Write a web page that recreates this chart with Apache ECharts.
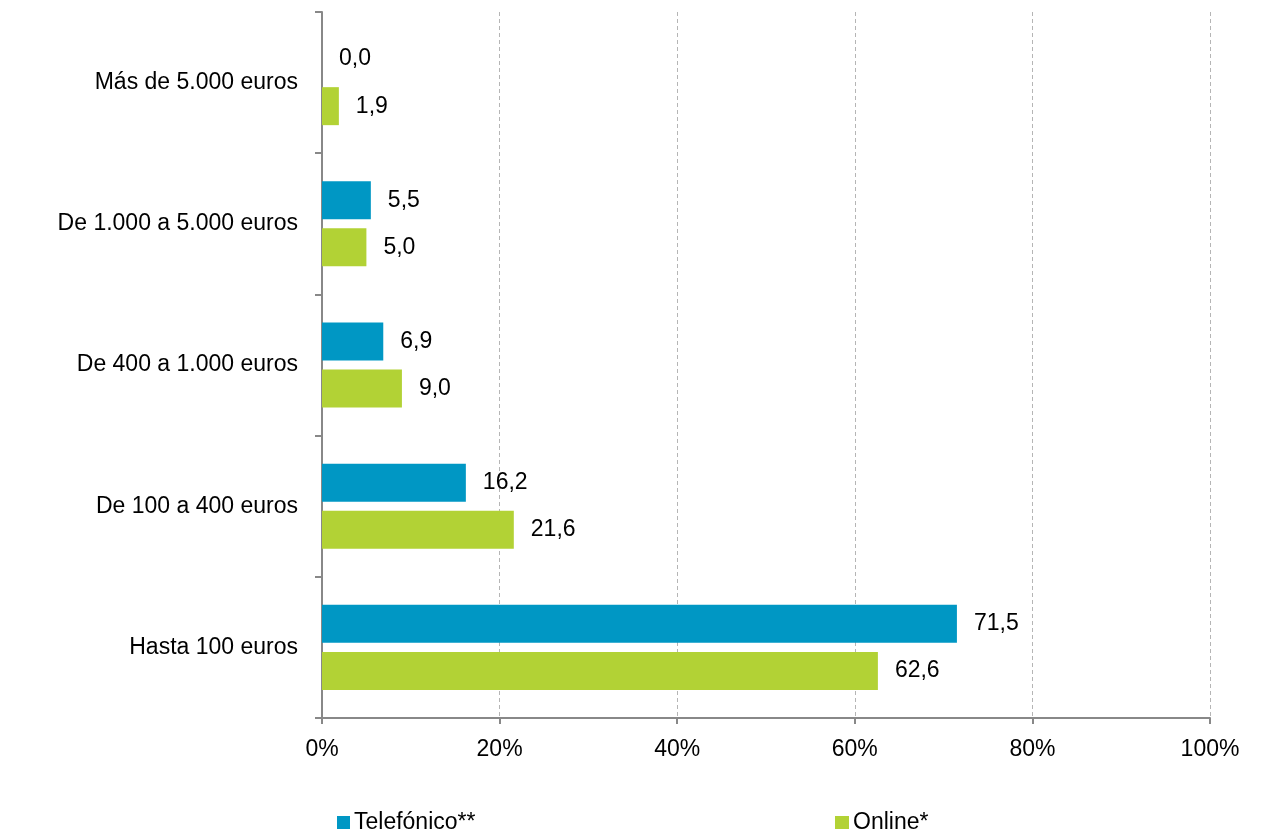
<!DOCTYPE html>
<html><head><meta charset="utf-8">
<script src="https://cdn.jsdelivr.net/npm/echarts@6/dist/echarts.min.js"></script>
<style>html,body{margin:0;padding:0;background:#fff}#c{width:1268px;height:831px}</style>
</head><body><div id="c"></div>
<script>
const categories = ['Hasta 100 euros','De 100 a 400 euros','De 400 a 1.000 euros','De 1.000 a 5.000 euros','Más de 5.000 euros'];
const telefonico = [71.5, 16.2, 6.9, 5.5, 0.0];
const online = [62.6, 21.6, 9.0, 5.0, 1.9];
const xTicks = [0, 20, 40, 60, 80, 100];

const font = 'Liberation Sans, Arial, sans-serif';
const fs = 23;
const chart = echarts.init(document.getElementById('c'));
const lbl = {show:true, position:'right', distance:17, fontSize:fs, fontFamily:font, color:'#000',
  formatter: p => p.value.toFixed(1).replace('.', ',')};
chart.setOption({
  animation:false,
  grid:{left:322, right:58, top:12, bottom:113, containLabel:false},
  legend:[
    {data:['Telefónico**'], left:332, top:806, icon:'rect', itemWidth:13, itemHeight:13,
     textStyle:{fontSize:fs, fontFamily:font, color:'#000', padding:[0,0,0,-1]}},
    {data:['Online*'], left:830, top:806, icon:'rect', itemWidth:14, itemHeight:13,
     textStyle:{fontSize:fs, fontFamily:font, color:'#000', padding:[0,0,0,-1]}}
  ],
  xAxis:{type:'value', min:xTicks[0], max:xTicks[xTicks.length-1], interval:20,
    axisLine:{show:true, lineStyle:{color:'#888', width:2}},
    axisTick:{show:true, length:6, lineStyle:{color:'#888', width:2}},
    axisLabel:{formatter:'{value}%', fontSize:fs, fontFamily:font, color:'#000', margin:20},
    splitLine:{show:true, lineStyle:{color:'#b5b5b5', type:[4,3], width:1}}},
  yAxis:{type:'category', data:categories,
    axisLine:{show:true, lineStyle:{color:'#888', width:2}},
    axisTick:{show:true, length:7, lineStyle:{color:'#888', width:2}},
    axisLabel:{fontSize:fs, fontFamily:font, color:'#000', margin:24},
    splitLine:{show:false}},
  series:[
    {name:'Telefónico**', type:'bar', data:telefonico, itemStyle:{color:'#0097C4'},
     barWidth:38, barGap:'24%', label:lbl},
    {name:'Online*', type:'bar', data:online, itemStyle:{color:'#B2D235'},
     barWidth:38, label:lbl}
  ]
});
</script></body></html>
